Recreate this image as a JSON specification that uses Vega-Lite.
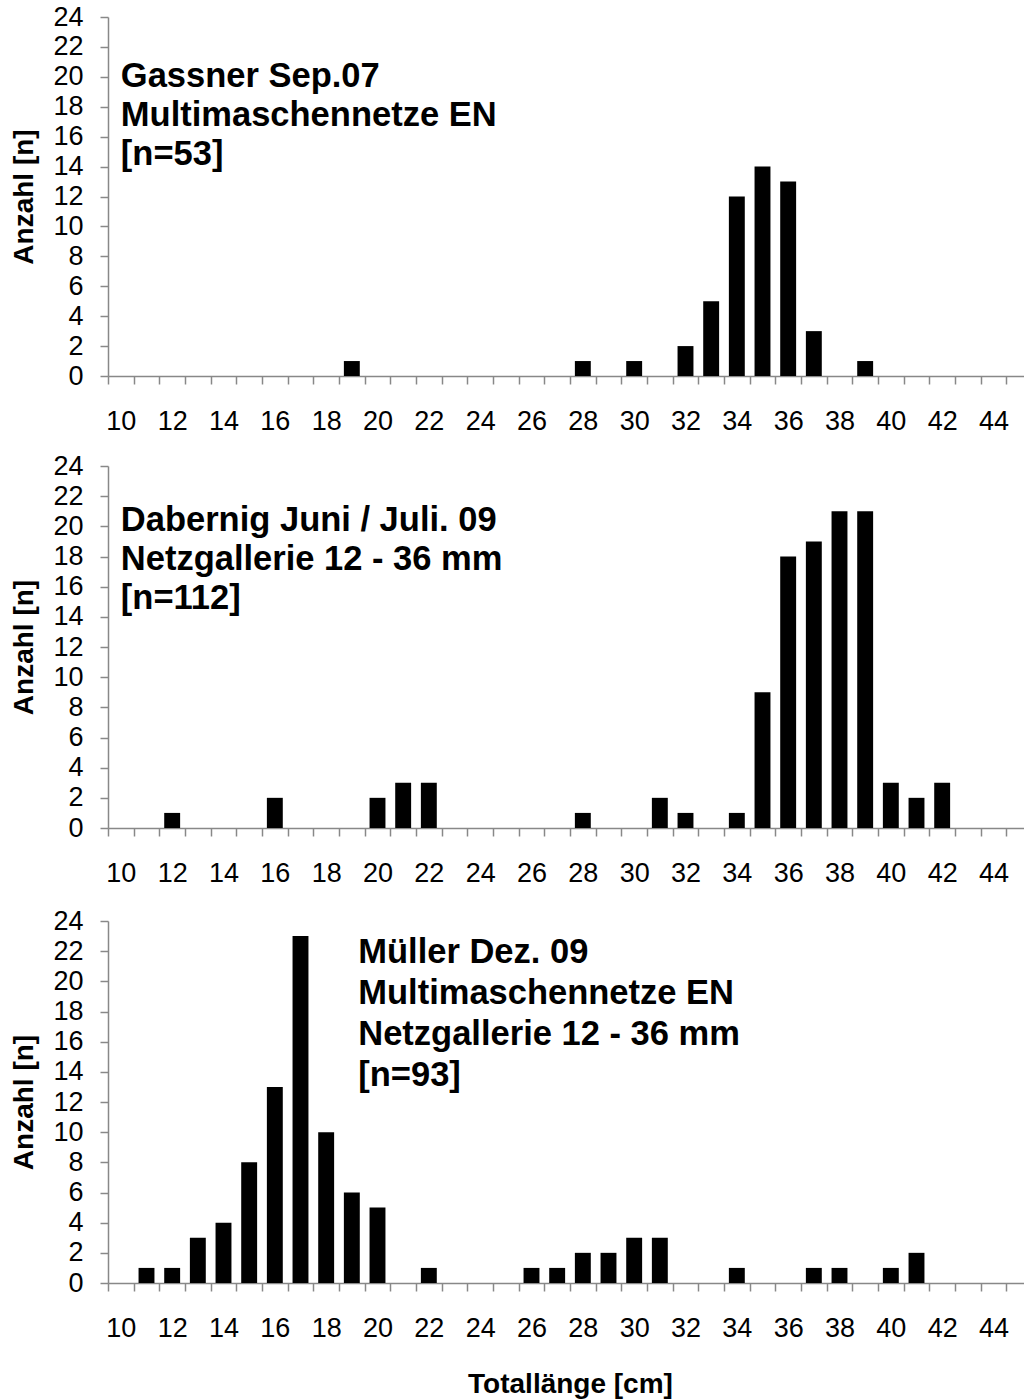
{
  "$schema": "https://vega.github.io/schema/vega-lite/v6.json",
  "background": "white",
  "padding": {"left": 10, "top": 3, "right": 0, "bottom": 0},
  "config": {
    "font": "Liberation Sans",
    "view": {"stroke": null},
    "axis": {
      "labelFont": "Liberation Sans", "labelFontSize": 27, "labelColor": "black",
      "titleFont": "Liberation Sans", "titleFontSize": 28, "titleFontWeight": "bold", "titleColor": "black",
      "domainColor": "#888888", "domainWidth": 1.5, "tickColor": "#888888", "tickWidth": 1.5, "tickSize": 8, "grid": false
    },
    "axisX": {"tickBand": "extent", "labelExpr": "datum.value % 2 === 0 ? datum.label : ''", "labelAngle": 0, "labelPadding": 24.5, "labelOverlap": false},
    "axisY": {"values": [0,2,4,6,8,10,12,14,16,18,20,22,24], "labelPadding": 17, "titlePadding": 14, "title": "Anzahl [n]"}
  },
  "vconcat": [
    {
      "spacing": 17,
      "vconcat": [
        {
          "width": 924, "height": 359,
          "layer": [
            {
              "data": {"values": [
                {"length": 19, "count": 1}, {"length": 28, "count": 1}, {"length": 30, "count": 1},
                {"length": 32, "count": 2}, {"length": 33, "count": 5}, {"length": 34, "count": 12},
                {"length": 35, "count": 14}, {"length": 36, "count": 13}, {"length": 37, "count": 3},
                {"length": 39, "count": 1}
              ]},
              "mark": {"type": "bar", "color": "black", "width": {"band": 0.62}},
              "encoding": {
                "x": {"field": "length", "type": "ordinal", "scale": {"domain": [10,11,12,13,14,15,16,17,18,19,20,21,22,23,24,25,26,27,28,29,30,31,32,33,34,35,36,37,38,39,40,41,42,43,44,45], "paddingInner": 0, "paddingOuter": 0}, "axis": {"title": null}},
                "y": {"field": "count", "type": "quantitative", "scale": {"domain": [0, 24]}, "axis": {"title": "Anzahl [n]"}}
              }
            },
            {
              "data": {"values": [{"length": 10, "count": 21.13, "label": ["Gassner Sep.07", "Multimaschennetze EN", "[n=53]"]}]},
              "mark": {"type": "text", "align": "left", "baseline": "top", "fontSize": 34.5, "fontWeight": "bold", "lineHeight": 39, "font": "Liberation Sans", "color": "black"},
              "encoding": {
                "x": {"field": "length", "type": "ordinal", "bandPosition": 0.5},
                "y": {"field": "count", "type": "quantitative"},
                "text": {"field": "label"}
              }
            }
          ]
        },
        {
          "width": 924, "height": 362,
          "layer": [
            {
              "data": {"values": [
                {"length": 12, "count": 1}, {"length": 16, "count": 2}, {"length": 20, "count": 2},
                {"length": 21, "count": 3}, {"length": 22, "count": 3}, {"length": 28, "count": 1},
                {"length": 31, "count": 2}, {"length": 32, "count": 1}, {"length": 34, "count": 1},
                {"length": 35, "count": 9}, {"length": 36, "count": 18}, {"length": 37, "count": 19},
                {"length": 38, "count": 21}, {"length": 39, "count": 21}, {"length": 40, "count": 3},
                {"length": 41, "count": 2}, {"length": 42, "count": 3}
              ]},
              "mark": {"type": "bar", "color": "black", "width": {"band": 0.62}},
              "encoding": {
                "x": {"field": "length", "type": "ordinal", "scale": {"domain": [10,11,12,13,14,15,16,17,18,19,20,21,22,23,24,25,26,27,28,29,30,31,32,33,34,35,36,37,38,39,40,41,42,43,44,45], "paddingInner": 0, "paddingOuter": 0}, "axis": {"title": null}},
                "y": {"field": "count", "type": "quantitative", "scale": {"domain": [0, 24]}, "axis": {"title": "Anzahl [n]"}}
              }
            },
            {
              "data": {"values": [{"length": 10, "count": 21.5, "label": ["Dabernig Juni / Juli. 09", "Netzgallerie 12 - 36 mm", "[n=112]"]}]},
              "mark": {"type": "text", "align": "left", "baseline": "top", "fontSize": 34.5, "fontWeight": "bold", "lineHeight": 39, "font": "Liberation Sans", "color": "black"},
              "encoding": {
                "x": {"field": "length", "type": "ordinal", "bandPosition": 0.5},
                "y": {"field": "count", "type": "quantitative"},
                "text": {"field": "label"}
              }
            }
          ]
        }
      ]
    },
    {
      "width": 924, "height": 362,
      "layer": [
        {
          "data": {"values": [
            {"length": 11, "count": 1}, {"length": 12, "count": 1}, {"length": 13, "count": 3},
            {"length": 14, "count": 4}, {"length": 15, "count": 8}, {"length": 16, "count": 13},
            {"length": 17, "count": 23}, {"length": 18, "count": 10}, {"length": 19, "count": 6},
            {"length": 20, "count": 5}, {"length": 22, "count": 1}, {"length": 26, "count": 1},
            {"length": 27, "count": 1}, {"length": 28, "count": 2}, {"length": 29, "count": 2},
            {"length": 30, "count": 3}, {"length": 31, "count": 3}, {"length": 34, "count": 1},
            {"length": 37, "count": 1}, {"length": 38, "count": 1}, {"length": 40, "count": 1},
            {"length": 41, "count": 2}
          ]},
          "mark": {"type": "bar", "color": "black", "width": {"band": 0.62}},
          "encoding": {
            "x": {"field": "length", "type": "ordinal", "scale": {"domain": [10,11,12,13,14,15,16,17,18,19,20,21,22,23,24,25,26,27,28,29,30,31,32,33,34,35,36,37,38,39,40,41,42,43,44,45], "paddingInner": 0, "paddingOuter": 0}, "axis": {"title": "Totallänge [cm]", "titlePadding": 29, "titleFontSize": 28}},
            "y": {"field": "count", "type": "quantitative", "scale": {"domain": [0, 24]}, "axis": {"title": "Anzahl [n]"}}
          }
        },
        {
          "data": {"values": [{"length": 19, "count": 23, "label": ["Müller Dez. 09", "Multimaschennetze EN", "Netzgallerie 12 - 36 mm", "[n=93]"]}]},
          "mark": {"type": "text", "align": "left", "baseline": "top", "fontSize": 34.5, "fontWeight": "bold", "lineHeight": 41, "font": "Liberation Sans", "color": "black"},
          "encoding": {
            "x": {"field": "length", "type": "ordinal", "bandPosition": 0.75},
            "y": {"field": "count", "type": "quantitative"},
            "text": {"field": "label"}
          }
        }
      ]
    }
  ],
  "spacing": 20
}
